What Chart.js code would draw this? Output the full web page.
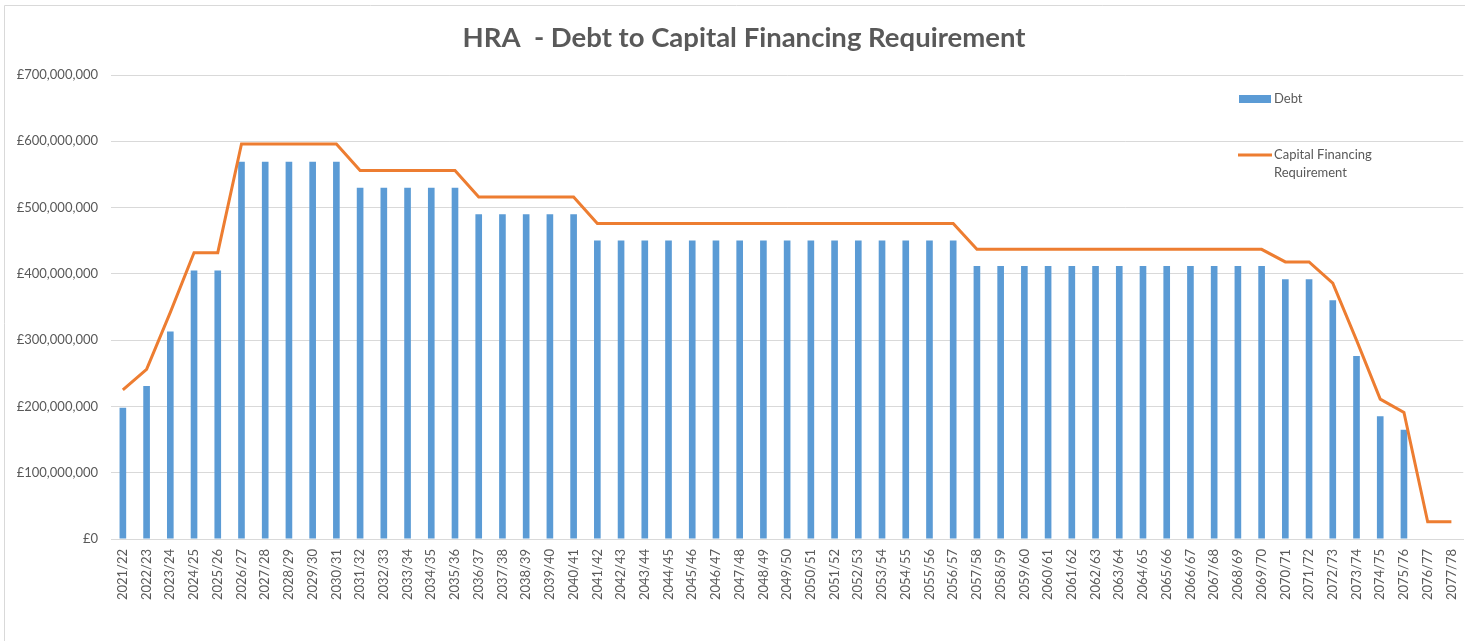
<!DOCTYPE html>
<html>
<head>
<meta charset="utf-8">
<script src="https://cdn.jsdelivr.net/npm/chart.js@4"></script>
<style>
  body { margin: 0; background: #fff; overflow: hidden; }
  canvas { display: block; }
</style>
</head>
<body>
<canvas id="hraChart" width="1469" height="643"></canvas>
<script>
const years = [
  '2021/22','2022/23','2023/24','2024/25','2025/26','2026/27','2027/28','2028/29','2029/30','2030/31',
  '2031/32','2032/33','2033/34','2034/35','2035/36','2036/37','2037/38','2038/39','2039/40','2040/41',
  '2041/42','2042/43','2043/44','2044/45','2045/46','2046/47','2047/48','2048/49','2049/50','2050/51',
  '2051/52','2052/53','2053/54','2054/55','2055/56','2056/57','2057/58','2058/59','2059/60','2060/61',
  '2061/62','2062/63','2063/64','2064/65','2065/66','2066/67','2067/68','2068/69','2069/70','2070/71',
  '2071/72','2072/73','2073/74','2074/75','2075/76','2076/77','2077/78'
];

// debt (£)
const debt = [
  198e6, 231e6, 313e6, 405e6, 405e6, 569e6, 569e6, 569e6, 569e6, 569e6,
  530e6, 530e6, 530e6, 530e6, 530e6, 490e6, 490e6, 490e6, 490e6, 490e6,
  450.5e6, 450.5e6, 450.5e6, 450.5e6, 450.5e6, 450.5e6, 450.5e6, 450.5e6, 450.5e6, 450.5e6,
  450.5e6, 450.5e6, 450.5e6, 450.5e6, 450.5e6, 450.5e6, 412e6, 412e6, 412e6, 412e6,
  412e6, 412e6, 412e6, 412e6, 412e6, 412e6, 412e6, 412e6, 412e6, 392e6,
  392e6, 360e6, 276e6, 185e6, 165e6, 0, 0
];

// capital financing requirement (£)
const cfr = [
  225e6, 256e6, 342e6, 432e6, 432e6, 596e6, 596e6, 596e6, 596e6, 596e6,
  556e6, 556e6, 556e6, 556e6, 556e6, 516e6, 516e6, 516e6, 516e6, 516e6,
  476e6, 476e6, 476e6, 476e6, 476e6, 476e6, 476e6, 476e6, 476e6, 476e6,
  476e6, 476e6, 476e6, 476e6, 476e6, 476e6, 437e6, 437e6, 437e6, 437e6,
  437e6, 437e6, 437e6, 437e6, 437e6, 437e6, 437e6, 437e6, 437e6, 418e6,
  418e6, 386e6, 300e6, 211e6, 191e6, 26e6, 26e6
];

const yTicks = [0, 100e6, 200e6, 300e6, 400e6, 500e6, 600e6, 700e6];

const textGrey = '#595959';
const gridGrey = '#D9D9D9';
const blue = '#5B9BD5';
const orange = '#ED7D31';
const fontFamily = 'Lato, "Open Sans", sans-serif';

// title, frame and legend are drawn by hand like the excel original
const extras = {
  id: 'extras',
  afterDraw(chart) {
    const ctx = chart.ctx;
    ctx.save();
    ctx.strokeStyle = gridGrey;
    ctx.lineWidth = 1;
    ctx.beginPath();
    ctx.moveTo(4.5, 641);
    ctx.lineTo(4.5, 5.5);
    ctx.lineTo(1469, 5.5);
    ctx.stroke();

    ctx.fillStyle = textGrey;
    ctx.font = 'bold 27.5px ' + fontFamily;
    ctx.textAlign = 'center';
    ctx.textBaseline = 'middle';
    ctx.fillText('HRA  - Debt to Capital Financing Requirement', 744, 38);

    ctx.textAlign = 'left';
    ctx.font = '13px ' + fontFamily;
    ctx.fillStyle = blue;
    ctx.fillRect(1239, 95, 32, 8);
    ctx.fillStyle = textGrey;
    ctx.fillText('Debt', 1274, 99);

    ctx.strokeStyle = orange;
    ctx.lineWidth = 3;
    ctx.beginPath();
    ctx.moveTo(1238, 155);
    ctx.lineTo(1272, 155);
    ctx.stroke();
    ctx.fillText('Capital Financing', 1274, 155);
    ctx.fillText('Requirement', 1274, 173);
    ctx.restore();
  }
};

function loadDebtChart() {
  Chart.defaults.color = textGrey;
  Chart.defaults.font.family = fontFamily;
  Chart.defaults.font.size = 13;

  const data = {
    labels: years,
    datasets: [{
      type: 'line',
      label: 'Capital Financing Requirement',
      data: cfr,
      borderColor: orange,
      backgroundColor: orange,
      borderWidth: 3,
      pointRadius: 0,
      tension: 0,
      order: 0
    }, {
      type: 'bar',
      label: 'Debt',
      data: debt,
      backgroundColor: blue,
      categoryPercentage: 1,
      barPercentage: 0.28,
      order: 1
    }]
  };

  const config = {
    data: data,
    options: {
      responsive: false,
      animation: false,
      layout: { padding: { top: 75, left: 0, right: 0, bottom: 0 } },
      plugins: {
        legend: { display: false },
        title: { display: false },
        tooltip: { enabled: false }
      },
      scales: {
        x: {
          offset: true,
          grid: { display: false },
          border: { color: gridGrey },
          ticks: {
            autoSkip: false,
            minRotation: 90,
            maxRotation: 90,
            padding: 2,
            color: textGrey
          },
          afterFit(scale) { scale.height = 104; }
        },
        y: {
          min: 0,
          max: 700e6,
          afterBuildTicks(scale) { scale.ticks = yTicks.map(v => ({ value: v })); },
          grid: { color: gridGrey, drawTicks: false },
          border: { display: false },
          ticks: {
            padding: 13,
            color: textGrey,
            callback: v => '£' + Number(v).toLocaleString('en-GB')
          },
          afterFit(scale) { scale.width = 111; }
        }
      }
    },
    plugins: [extras]
  };

  new Chart(document.getElementById('hraChart'), config);
}

loadDebtChart();
</script>
</body>
</html>
